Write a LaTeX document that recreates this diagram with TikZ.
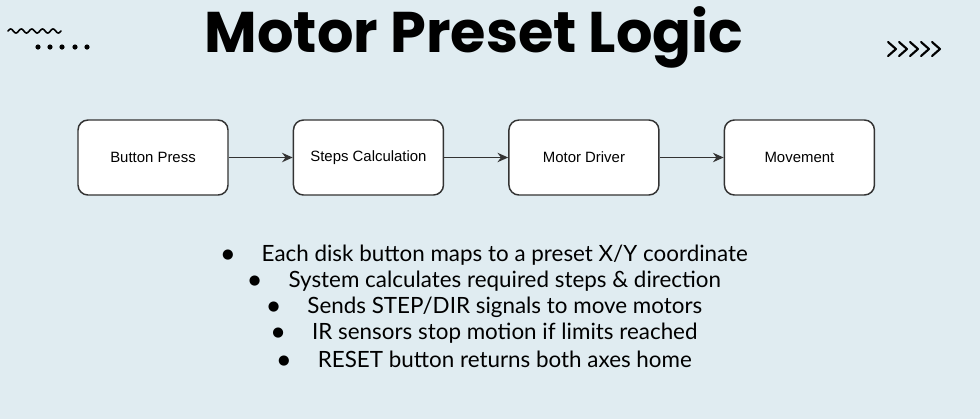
\documentclass[tikz,border=0pt]{standalone}
\usepackage{fontspec}
\setmainfont{Lato}
\newfontfamily\titlefont{Poppins}
\newfontfamily\boxfont{Liberation Sans}
\newfontfamily\symfont{DejaVu Sans}
\usetikzlibrary{positioning,arrows.meta}

\definecolor{slidebg}{RGB}{224,236,241}
\definecolor{edgegray}{RGB}{51,51,51}

\tikzset{
  flowbox/.style={draw=edgegray,line width=1.1pt,fill=white,
    rounded corners=7.5pt,minimum width=112.5pt,minimum height=56.25pt,
    font=\boxfont\fontsize{11.2}{13}\selectfont},
  flowarrow/.style={draw=edgegray,line width=1.3pt,
    -{Stealth[length=8pt,width=7pt]}},
  bulletline/.style={font=\fontsize{16.8}{20}\selectfont,inner sep=0pt},
  deco/.style={black,line width=1.6pt,line cap=round,line join=round}
}
\newcommand{\bulletdot}{\raisebox{2pt}{\symfont\fontsize{10}{10}\selectfont ●}\hspace{21pt}}

\begin{document}
\begin{tikzpicture}[x=0.75pt,y=-0.75pt]
    % slide background
    \fill[slidebg] (0,0) rectangle (980,419);
    \useasboundingbox (0,0) rectangle (980,419);

    % title and corner marks
    \node (title) at (474,37)
      {\titlefont\bfseries\fontsize{43}{43}\selectfont Motor Preset Logic};
    \draw[deco,line width=1.2pt] plot[domain=8:61,samples=80]
      (\x,{31-2*sin(33.96*(\x-8))});
    \fill (38,47) circle (2.6) (50,47) circle (2.6) (62,47) circle (2.6)
          (75,47) circle (2.6) (87,47) circle (2.6);
    \draw[deco] (888,42) -- (896,49) -- (888,56)
                (899,42) -- (907,49) -- (899,56)
                (910,42) -- (918,49) -- (910,56)
                (921,42) -- (929,49) -- (921,56)
                (932,42) -- (940,49) -- (932,56);

    % flow of the preset move
    \node[flowbox] (press) at (153,157.5) {Button Press};
    \node[flowbox,right=48pt of press] (calc) {Steps Calculation};
    \node[flowbox,right=48pt of calc] (driver) {Motor Driver};
    \node[flowbox,right=48pt of driver] (move) {Movement};

    \draw[flowarrow] (press) -- (calc);
    \draw[flowarrow] (calc) -- (driver);
    \draw[flowarrow] (driver) -- (move);

    % notes
    \node[bulletline] (note1) at (485,255)
      {\bulletdot Each disk button maps to a preset X/Y coordinate};
    \node[bulletline] (note2) at (485,281)
      {\bulletdot System calculates required steps \& direction};
    \node[bulletline] (note3) at (485,307)
      {\bulletdot Sends STEP/DIR signals to move motors};
    \node[bulletline] (note4) at (485,333)
      {\bulletdot IR sensors stop motion if limits reached};
    \node[bulletline] (note5) at (485,359)
      {\bulletdot RESET button returns both axes home};
\end{tikzpicture}
\end{document}
